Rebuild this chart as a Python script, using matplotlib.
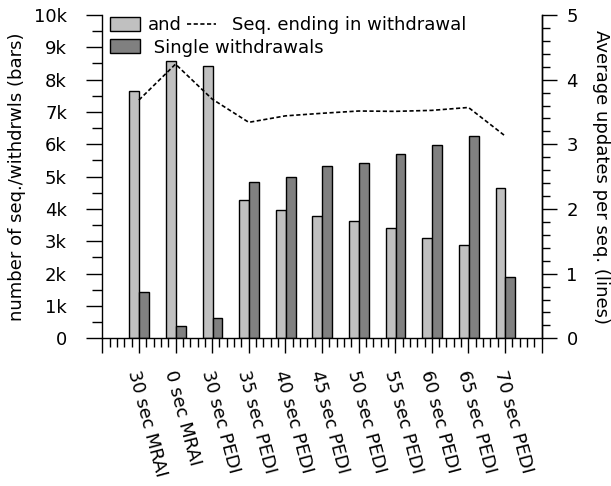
import numpy as np
import matplotlib.pyplot as plt
from matplotlib.ticker import MultipleLocator
from matplotlib.transforms import ScaledTranslation

# data
labels = ["30 sec MRAI", "0 sec MRAI", "30 sec PEDI", "35 sec PEDI", "40 sec PEDI",
          "45 sec PEDI", "50 sec PEDI", "55 sec PEDI", "60 sec PEDI", "65 sec PEDI",
          "70 sec PEDI"]
seq_withdrawal = [7650, 8580, 8420, 4280, 3970, 3790, 3640, 3420, 3090, 2880, 4650]
single_withdrawals = [1430, 380, 620, 4820, 5000, 5330, 5430, 5700, 5980, 6260, 1910]
avg_updates = [3.685, 4.24, 3.70, 3.34, 3.44, 3.48, 3.515, 3.51, 3.525, 3.57, 3.13]

y_ticks = [0, 1000, 2000, 3000, 4000, 5000, 6000, 7000, 8000, 9000, 10000]
y_ticklabels = ["0", "1k", "2k", "3k", "4k", "5k", "6k", "7k", "8k", "9k", "10k"]

plt.rcParams["font.family"] = "DejaVu Sans"
plt.rcParams["font.size"] = 13

W, H = 611, 486
fig = plt.figure(figsize=(W / 100, H / 100), dpi=100)
ax = fig.add_axes([102.3 / W, 147.7 / H, 439.4 / W, 323.3 / H])
ax2 = ax.twinx()

x = np.arange(1, len(labels) + 1)
b1 = ax.bar(x - 0.26, seq_withdrawal, width=0.27, align="edge",
            color="#c0c0c0", edgecolor="black", linewidth=1.0)
b2 = ax.bar(x + 0.01, single_withdrawals, width=0.27, align="edge",
            color="#808080", edgecolor="black", linewidth=1.0)
line, = ax2.plot(x, avg_updates, color="black", linestyle=(0, (2.5, 1.5)), linewidth=1.2)

ax.set_xlim(0, 12)
ax.set_ylim(0, 10000)
ax2.set_ylim(0, 5)

# axes look
for a in (ax, ax2):
    a.spines["top"].set_visible(False)
    for s in a.spines.values():
        s.set_linewidth(1.0)
ax2.spines["left"].set_visible(False)
ax2.spines["bottom"].set_visible(False)

ax.set_xticks(range(0, 13))
ax.set_xticklabels([""] + labels + [""], rotation=-75, ha="left", va="top",
                   rotation_mode="anchor")
ax.xaxis.set_minor_locator(MultipleLocator(0.2))
ax.tick_params(axis="x", which="major", length=10.8, width=1.0, pad=11)
ax.tick_params(axis="x", which="minor", length=6.8, width=1.0)
shift = ScaledTranslation(3 / 100, 0, fig.dpi_scale_trans)
for lab in ax.get_xticklabels():
    lab.set_transform(lab.get_transform() + shift)

ax.set_yticks(y_ticks)
ax.set_yticklabels(y_ticklabels)
ax.yaxis.set_minor_locator(MultipleLocator(500))
ax.tick_params(axis="y", which="major", length=11.5, width=1.0, pad=14)
ax.tick_params(axis="y", which="minor", length=7, width=1.0)

ax2.set_yticks([0, 1, 2, 3, 4, 5])
ax2.yaxis.set_minor_locator(MultipleLocator(0.2))
ax2.tick_params(axis="y", which="major", length=10.8, width=1.0, pad=7)
ax2.tick_params(axis="y", which="minor", length=5.5, width=1.0)

ax.set_ylabel("number of seq./withdrwls (bars)")
ax.yaxis.set_label_coords(-0.173, 0.5)
ax2.set_ylabel("Average updates per seq. (lines)", rotation=270, va="bottom")
ax2.yaxis.set_label_coords(1.115, 0.5)

# legend (gnuplot style, split in two like the original)
leg1 = ax2.legend([b1, b2], ["and", " Single withdrawals"], loc="upper left",
                  bbox_to_anchor=(110 / W, 1 - 16 / H), bbox_transform=fig.transFigure,
                  frameon=False, borderpad=0, borderaxespad=0, handlelength=1.65,
                  handleheight=0.85, handletextpad=0.45, labelspacing=0.25)
ax2.add_artist(leg1)
ax2.legend([line], ["Seq. ending in withdrawal"], loc="upper left",
           bbox_to_anchor=(187 / W, 1 - 16 / H), bbox_transform=fig.transFigure,
           frameon=False, borderpad=0, borderaxespad=0, handlelength=1.6,
           handletextpad=0.9)

fig.savefig("out.png", dpi=100)
